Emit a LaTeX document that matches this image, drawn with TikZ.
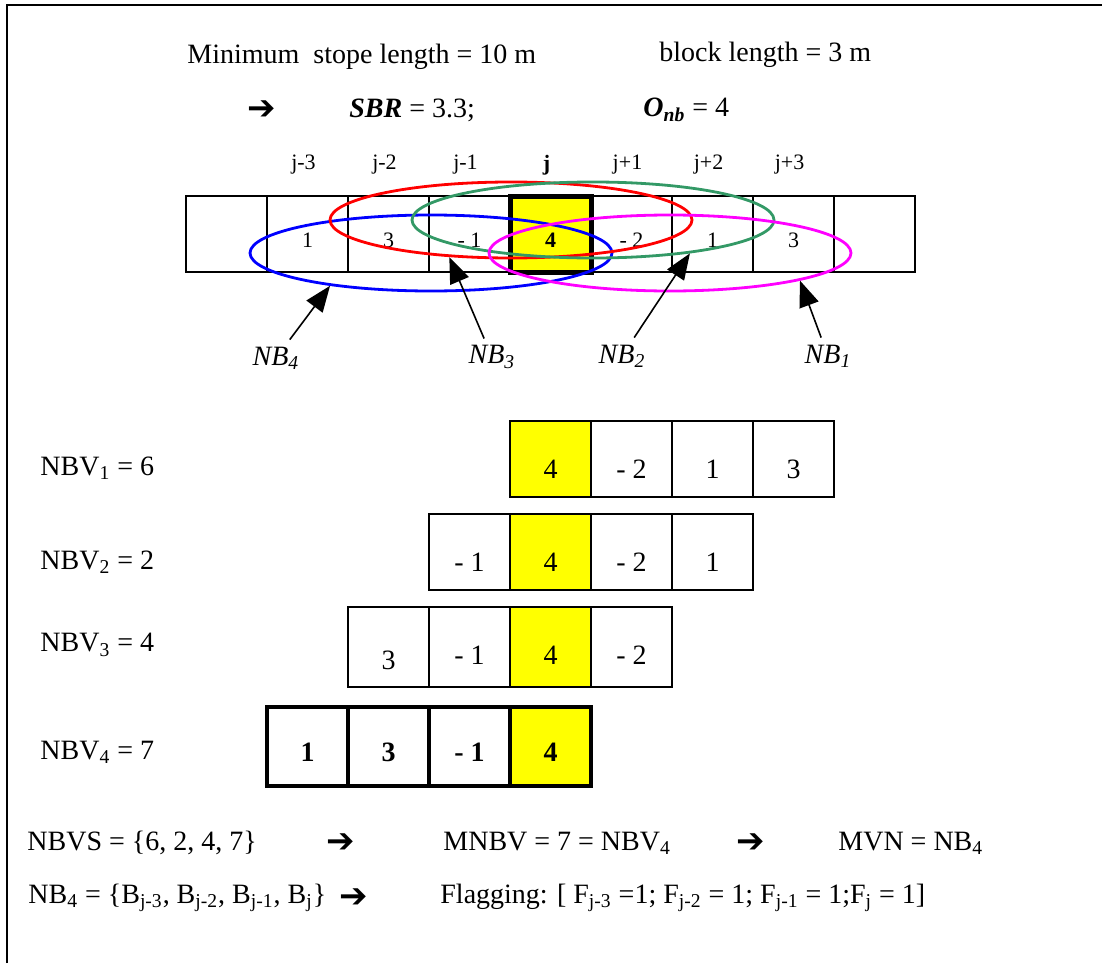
\documentclass[tikz,border=0pt]{standalone}
\usepackage{fontspec}
\setmainfont{Liberation Serif}
\newfontfamily\arrowfont{DejaVu Sans}
\usepackage{tikz}
\usetikzlibrary{arrows.meta,shapes.geometric}
\definecolor{nbgreen}{RGB}{51,153,102}
\definecolor{nbmagenta}{RGB}{255,0,255}
\definecolor{jyellow}{RGB}{255,255,0}
\tikzstyle{cell}=[draw,line width=1pt,minimum width=40.5pt,minimum height=38pt,inner sep=0pt]
\tikzstyle{jcell}=[cell,fill=jyellow]
\tikzstyle{boldcell}=[cell,line width=2pt]
\tikzstyle{jboldcell}=[boldcell,fill=jyellow]
\tikzstyle{hood}=[ellipse,draw,line width=1.4pt,minimum width=181pt,minimum height=38pt,inner sep=0pt]
\tikzstyle{pointer}=[draw,line width=0.8pt,-{Triangle[length=13pt,width=10pt]}]
\tikzstyle{small}=[font=\fontsize{11pt}{13pt}\selectfont]
\tikzstyle{txt}=[anchor=west,inner sep=0pt]
\newcommand{\rarr}{{\arrowfont\bfseries\fontsize{17pt}{17pt}\selectfont ➔}}
\newcommand{\sub}[1]{\textsubscript{#1}}

\begin{document}
\begin{tikzpicture}[x=0.5pt,y=-0.5pt,font=\fontsize{14pt}{17pt}\selectfont]
    \useasboundingbox (0,0) rectangle (1102,963);
    % frame, only top and left side
    \draw[line width=1pt] (7,963) -- (7,5) -- (1102,5);

    % Header
    \node[txt] (stope) at (187,57) {Minimum\ \ stope length = 10 m};
    \node[txt] (block) at (659,55) {block length = 3 m};
    \node (arr0) at (262,110) {\rarr};
    \node[txt] (sbr) at (349,110) {\textbf{\textit{SBR}} = 3.3;};
    \node[txt] (onb) at (643,110) {\textbf{\textit{O\sub{nb}}} = 4};

    % The block row, j in the middle
    \foreach \c in {0,...,8}
        \node[cell] (b\c) at (226.5+81*\c,234) {};
    \node[jcell,line width=2.5pt] (bj) at (b4) {};
    \foreach \c/\t in {1/j-3,2/j-2,3/j-1,4/\textbf{j},5/j+1,6/j+2,7/j+3}
        \node[small] (h\c) at (222.5+81*\c,165) {\t};
    \foreach \c/\v in {1/1,2/3,3/- 1,4/\textbf{4},5/- 2,6/1,7/3}
        \node[small] (v\c) at ([yshift=-3pt]b\c.center) {\v};

    % Neighbourhoods
    \node[hood,blue] (nb4) at (431,253) {};
    \node[hood,red] (nb3) at (511,220) {};
    \node[hood,nbgreen] (nb2) at (593,220) {};
    \node[hood,nbmagenta] (nb1) at (670,253) {};

    \node (l4) at (276,358) {\textit{NB\sub{4}}};
    \node (l3) at (492,357) {\textit{NB\sub{3}}};
    \node (l2) at (622,356) {\textit{NB\sub{2}}};
    \node (l1) at (828,356) {\textit{NB\sub{1}}};
    \draw[pointer] (l4) -- (nb4.198);
    \draw[pointer] (l3) -- (nb3.211);
    \draw[pointer] (l2) -- (nb2.-19);
    \draw[pointer] (l1) -- (nb1.-12);

    % Neighbourhood values
    \node[txt] (nbv1) at (40,468) {NBV\sub{1} = 6};
    \foreach \c/\s/\v in {4/jcell/4,5/cell/- 2,6/cell/1,7/cell/3}
        \node[\s,label={[yshift=-5pt]center:\v}] (p\c) at (226.5+81*\c,459) {};

    \node[txt] (nbv2) at (40,562) {NBV\sub{2} = 2};
    \foreach \c/\s/\v in {3/cell/- 1,4/jcell/4,5/cell/- 2,6/cell/1}
        \node[\s,label={[yshift=-5pt]center:\v}] (q\c) at (226.5+81*\c,552) {};

    \node[txt] (nbv3) at (40,645) {NBV\sub{3} = 4};
    \foreach \c/\s/\v/\d in {2/cell/3/-6.5pt,3/cell/- 1/-4pt,4/jcell/4/-4pt,5/cell/- 2/-4pt}
        \node[\s,minimum height=40pt,label={[yshift=\d]center:\v}] (r\c) at (226.5+81*\c,647) {};

    \node[txt] (nbv4) at (40,752) {NBV\sub{4} = 7};
    \foreach \c/\s/\v in {1/boldcell/1,2/boldcell/3,3/boldcell/- 1,4/jboldcell/4}
        \node[\s,minimum height=39.5pt,label={[yshift=-3pt,font=\fontsize{14pt}{17pt}\selectfont\bfseries]center:\v}] (s\c) at (226.5+81*\c,746.5) {};

    % Result
    \node[txt] (nbvs) at (27,843) {NBVS = \{6, 2, 4, 7\}};
    \node (arr1) at (341,843) {\rarr};
    \node[txt] (mnbv) at (443,843) {MNBV = 7 = NBV\sub{4}};
    \node (arr2) at (751,843) {\rarr};
    \node[txt] (mvn) at (838,843) {MVN = NB\sub{4}};
    \node[txt] (nbset) at (28,898) {NB\sub{4} = \{B\sub{j-3}, B\sub{j-2}, B\sub{j-1}, B\sub{j}\}};
    \node (arr3) at (354,898) {\rarr};
    \node[txt] (flag) at (440,898) {Flagging: [ F\sub{j-3} =1; F\sub{j-2} = 1; F\sub{j-1} = 1;F\sub{j} = 1]};
\end{tikzpicture}
\end{document}
